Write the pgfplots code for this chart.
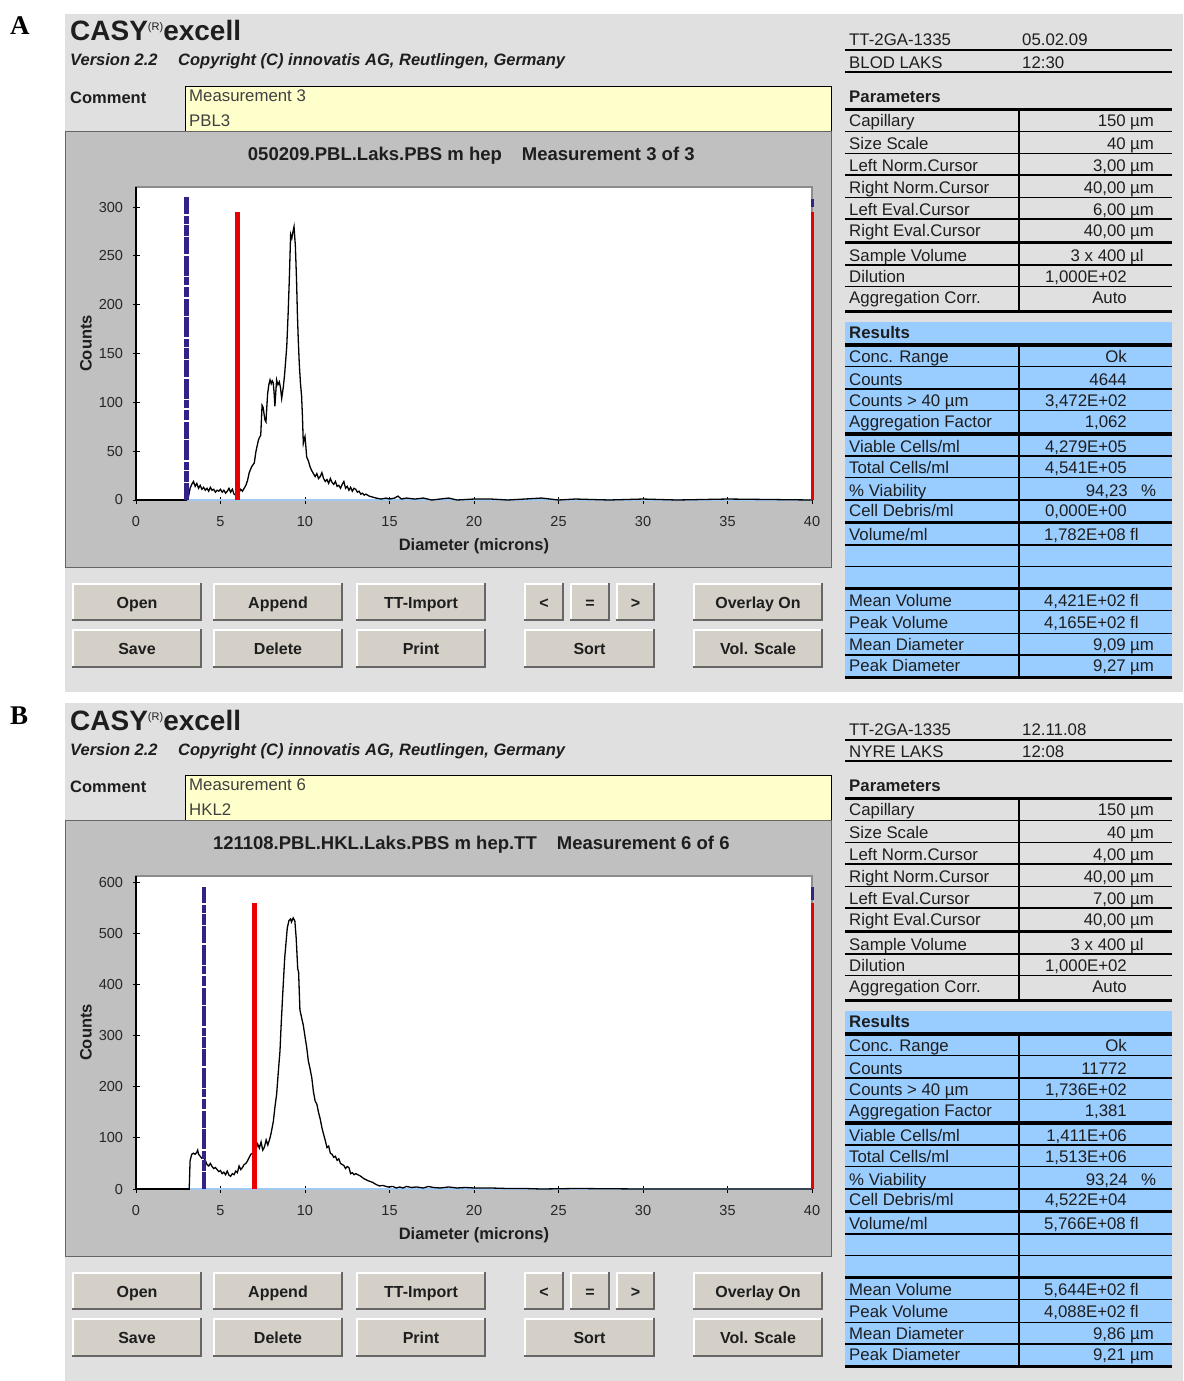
\documentclass[border=0pt]{standalone}
\usepackage{pgfplots}
\pgfplotsset{compat=1.18}
\usepackage{fontspec}
\setmainfont{Liberation Sans}
\newfontfamily\lserif{Liberation Serif}

\definecolor{winbg}{RGB}{224,224,224}
\definecolor{chartbg}{RGB}{192,192,192}
\definecolor{cmtyel}{RGB}{255,255,204}
\definecolor{resblue}{RGB}{153,204,255}
\definecolor{btnface}{RGB}{212,208,200}
\definecolor{cursblue}{RGB}{51,34,136}
\definecolor{cursred}{RGB}{235,0,0}
\definecolor{zeroblue}{RGB}{160,200,240}
\definecolor{txt}{RGB}{30,30,30}

\newcommand\fs[1]{\fontsize{#1}{#1}\selectfont}

\tikzset{
  lbl/.style={inner sep=0pt, anchor=base west, font=\fs{16.8}, text=txt},
  num/.style={inner sep=0pt, anchor=base east, font=\fs{16.8}, text=txt},
}

% pixel coordinates, y downwards
\newcommand\lab[2]{\node[lbl] at (849,#1+6) {#2};}
\newcommand\val[3]{\node[num] at (1126,#1+6) {#2};\node[lbl] at (1130,#1+6) {#3};}
\newcommand\valc[2]{\node[num] at (1127,#1+6) {#2};}
\newcommand\hl[2]{\draw[line width=#2] (845,#1) -- (1172,#1);}
\newcommand\btn[5]{%
  \fill[btnface] (#1,#2) rectangle (#3,#4);
  \draw[white, line width=1.5] (#1+0.75,#4-1) -- (#1+0.75,#2+0.75) -- (#3-1,#2+0.75);
  \draw[black!60, line width=2] (#1,#4-1) -- (#3-1,#4-1) -- (#3-1,#2);
  \node[inner sep=0pt, anchor=base, font=\bfseries\fs{16}, text=txt] at ({(#1+#3)/2},{(#2+#4)/2+6}) {#5};}

\newcommand\casyframe[7]{%
  \fill[winbg] (65,14) rectangle (1183,692);
  \node[lbl, font=\bfseries\fs{28}] at (70,41) {CASY\raisebox{10pt}{\mdseries\fs{11}(R)}excell};
  \node[lbl, font=\bfseries\itshape\fs{16.5}] at (70,66) {Version 2.2};
  \node[lbl, font=\bfseries\itshape\fs{16.5}] at (178,66) {Copyright (C) innovatis AG, Reutlingen, Germany};
  \node[lbl, font=\bfseries\fs{16.5}] at (70,103) {Comment};
  \filldraw[fill=cmtyel, draw=black, line width=1] (185,86) rectangle (831,131);
  \node[lbl, text=black!75] at (189,101) {#1};
  \node[lbl, text=black!75] at (189,126) {#2};
  \filldraw[fill=chartbg, draw=black!60, line width=1] (65,131) rectangle (831,567);
  \filldraw[fill=white, draw=black!45, line width=1.5] (136,187) rectangle (812,500);
  % buttons
  \btn{72}{583}{202}{621}{Open}
  \btn{213}{583}{343}{621}{Append}
  \btn{356}{583}{486}{621}{TT-Import}
  \btn{524}{583}{564}{621}{<}
  \btn{570}{583}{610}{621}{=}
  \btn{616}{583}{655}{621}{>}
  \btn{693}{583}{823}{621}{Overlay On}
  \btn{72}{629}{202}{668}{Save}
  \btn{213}{629}{343}{668}{Delete}
  \btn{356}{629}{486}{668}{Print}
  \btn{524}{629}{655}{668}{Sort}
  \btn{693}{629}{823}{668}{Vol. Scale}
  % header
  \lab{40}{TT-2GA-1335}\node[lbl] at (1022,46) {#3};
  \hl{50.5}{2}
  \lab{62.7}{#4}\node[lbl] at (1022,68.7) {#5};
  \hl{71.7}{2}
  % parameters
  \node[lbl, font=\bfseries\fs{16.8}] at (849,102.7) {Parameters};
  \hl{109.7}{3}
  \lab{120.7}{Capillary}\val{120.7}{150}{µm}
  \hl{131.7}{1.5}
  \lab{143.3}{Size Scale}\val{143.3}{40}{µm}
  \hl{153.3}{1.5}
  \lab{165}{Left Norm.Cursor}\val{165}{#6}{µm}
  \hl{175}{1.5}
  \lab{187.3}{Right Norm.Cursor}\val{187.3}{40,00}{µm}
  \hl{197.3}{1.5}
  \lab{209.3}{Left Eval.Cursor}\val{209.3}{#7}{µm}
  \hl{219}{1.5}
  \lab{230}{Right Eval.Cursor}\val{230}{40,00}{µm}
  \hl{242.3}{3}
  \lab{255}{Sample Volume}\val{255}{3 x 400}{µl}
  \hl{265}{1.5}
  \lab{276}{Dilution}\valc{276}{1,000E+02}
  \hl{286.7}{1.5}
  \lab{297.3}{Aggregation Corr.}\valc{297.3}{Auto}
  \hl{311.5}{3.5}
  \draw[line width=1.5] (1019,111) -- (1019,310);
  % results
  \fill[resblue] (845,322) rectangle (1172,679);
  \node[lbl, font=\bfseries\fs{16.8}] at (849,338.7) {Results};
  \hl{345}{3.5}
  \lab{356}{Conc. Range}\valc{356}{Ok}
  \hl{366.7}{1.5}
  \lab{379.3}{Counts}
  \hl{389}{1.5}
  \lab{400.7}{Counts > 40 µm}
  \hl{410.7}{1.5}
  \lab{421}{Aggregation Factor}
  \hl{433.8}{3.5}
  \lab{446}{Viable Cells/ml}
  \hl{456}{1.5}
  \lab{467.3}{Total Cells/ml}
  \hl{477.7}{1.5}
  \lab{490}{\% Viability}
  \hl{500}{1.5}
  \lab{510}{Cell Debris/ml}
  \hl{522.3}{3.5}
  \lab{534.3}{Volume/ml}
  \hl{545}{1.5}
  \hl{566.7}{1.5}
  \hl{588.3}{3.5}
  \lab{600}{Mean Volume}
  \hl{610.7}{1.5}
  \lab{622.7}{Peak Volume}
  \hl{633.3}{1.5}
  \lab{644}{Mean Diameter}
  \hl{655}{1.5}
  \lab{665}{Peak Diameter}
  \hl{677.7}{3.5}
  \draw[line width=1.5] (1019,346) -- (1019,676);
}

% results values: counts, >40, aggregation, viable, total, viability, debris, volume/ml, mean volume
\newcommand\casyresults[9]{%
  \valc{379.3}{#1}
  \valc{400.7}{#2}
  \valc{421}{#3}
  \valc{446}{#4}
  \valc{467.3}{#5}
  \node[num] at (1128,496) {#6};\node[lbl] at (1141,496) {\%};
  \valc{510}{#7}
  \val{534.3}{#8}{fl}
  \val{600}{#9}{fl}
}

\pgfplotsset{
  casy/.style={
    anchor=south west, scale only axis, width=676pt, height=313pt,
    xmin=0, xmax=40, ymin=0,
    axis lines=left, axis line style={-, line width=1.2pt},
    xtick={0,5,...,40}, tick align=center, major tick length=7pt,
    every tick/.style={black, line width=1pt},
    ticklabel style={font=\fs{14.5}, text=black!85},
    /pgf/number format/assume math mode=true,
    xticklabel style={yshift=-9pt}, yticklabel style={xshift=-6pt},
    clip=false,
    xlabel={Diameter (microns)}, ylabel={Counts},
    xlabel style={at={(axis description cs:0.5,-0.147)}, anchor=center, font=\bfseries\fs{16.5}, text=txt},
    ylabel style={at={(axis description cs:-0.074,0.5)}, anchor=center, font=\bfseries\fs{16.5}, text=txt},
    title style={at={(axis description cs:0.496,1.082)}, anchor=center, yshift=0pt, font=\bfseries\fs{18.5}, text=txt},
  },
  cblue/.style={cursblue, dash pattern=on 17pt off 1.5pt on 10.5pt off 1.5pt on 8pt off 1.5pt on 20pt off 1.5pt},
}

\begin{document}
\begin{tikzpicture}
\begin{scope}[x=1pt,y=-1pt]
  \path[use as bounding box, fill=white] (0,0) rectangle (1183,1381);
  \casyframe{Measurement 3}{PBL3}{05.02.09}{BLOD LAKS}{12:30}{3,00}{6,00}
  \casyresults{4644}{3,472E+02}{1,062}{4,279E+05}{4,541E+05}{94,23}{0,000E+00}{1,782E+08}{4,421E+02}
  \val{622.7}{4,165E+02}{fl}
  \val{644}{9,09}{µm}
  \val{665}{9,27}{µm}
  \node[inner sep=0pt, anchor=base west, font=\lserif\bfseries\fs{27}] at (10,35) {A};
  \begin{scope}[yshift=-689pt]
    \casyframe{Measurement 6}{HKL2}{12.11.08}{NYRE LAKS}{12:08}{4,00}{7,00}
    \casyresults{11772}{1,736E+02}{1,381}{1,411E+06}{1,513E+06}{93,24}{4,522E+04}{5,766E+08}{5,644E+02}
    \val{622.7}{4,088E+02}{fl}
    \val{644}{9,86}{µm}
    \val{665}{9,21}{µm}
    \node[inner sep=0pt, anchor=base west, font=\lserif\bfseries\fs{27}] at (10,35) {B};
  \end{scope}
\end{scope}

\begin{axis}[casy, at={(136pt,-500pt)}, ymax=320.5, ytick={0,50,...,300},
  title={050209.PBL.Laks.PBS m hep\hspace{20pt}Measurement 3 of 3}]
\addplot[zeroblue, line width=2pt] coordinates {(3,0) (40,0)};
\addplot[black, line width=1.3pt] coordinates {
(0,0) (3.0,0) (3.1,3) (3.2,12) (3.3,16) (3.4,19) (3.5,14) (3.6,17) (3.7,12) (3.8,15) (3.9,11) (4.0,13) (4.1,10) (4.2,12) (4.3,9) (4.4,13) (4.5,10) (4.6,11) (4.7,8) (4.8,10) (4.9,9) (5.0,11) (5.1,8) (5.2,10) (5.3,7) (5.4,9) (5.5,12) (5.6,8) (5.7,11) (5.8,6) (5.9,5) (6.0,5) (6.1,8) (6.2,11) (6.3,9) (6.4,12) (6.5,15) (6.6,20) (6.7,28) (6.84,34) (7.0,38) (7.1,50) (7.24,61) (7.3,64) (7.38,66) (7.46,97) (7.52,95) (7.57,89) (7.63,82) (7.69,80) (7.74,95) (7.79,109) (7.86,118) (7.93,123) (8.0,119) (8.06,122) (8.12,120) (8.17,110) (8.22,96) (8.27,110) (8.32,123) (8.4,118) (8.48,121) (8.55,115) (8.62,104) (8.72,116) (8.8,130) (8.92,157) (9.0,190) (9.07,225) (9.15,272) (9.22,268) (9.27,273) (9.35,280) (9.43,260) (9.5,225) (9.55,191) (9.6,165) (9.66,140) (9.73,120) (9.8,106) (9.85,85) (9.9,58) (9.95,62) (10.0,65) (10.05,55) (10.1,44) (10.2,40) (10.3,34) (10.4,30) (10.5,27) (10.6,24) (10.7,27) (10.8,22) (10.9,24) (11.0,28) (11.1,22) (11.2,19) (11.3,21) (11.4,17) (11.5,22) (11.6,18) (11.7,16) (11.8,19) (11.9,14) (12.0,15) (12.1,12) (12.2,16) (12.3,19) (12.4,12) (12.5,14) (12.6,10) (12.7,13) (12.8,9) (12.9,12) (13.0,11) (13.1,8) (13.2,9) (13.3,6) (13.4,7) (13.5,5) (13.6,6) (13.8,4) (14.0,3) (14.2,2) (14.5,1) (14.8,2) (15.0,1) (15.3,2) (15.5,4) (15.7,1) (16.0,2) (16.5,1) (17.0,2) (17.5,0) (18.0,1) (18.5,2) (19.0,0) (20,1) (21,1) (22,0) (23,1) (24,2) (25,0) (26,1) (28,0) (30,1) (32,0) (35,1) (40,0)};
\addplot[cblue, line width=5pt] coordinates {(3,0) (3,310)};
\addplot[cursred, line width=4.3pt] coordinates {(6,0) (6,295)};
\addplot[cursred, line width=3pt] coordinates {(40,0) (40,295)};
\addplot[cursblue, line width=3pt] coordinates {(40,300) (40,308)};
\end{axis}

\begin{axis}[casy, at={(136pt,-1189pt)}, ymax=612, ytick={0,100,...,600},
  title={121108.PBL.HKL.Laks.PBS m hep.TT\hspace{20pt}Measurement 6 of 6}]
\addplot[zeroblue, line width=2pt] coordinates {(3.2,0) (40,0)};
\addplot[black, line width=1.3pt] coordinates {
(0,0) (3.15,0) (3.2,55) (3.25,62) (3.3,68) (3.4,70) (3.5,68) (3.6,72) (3.65,76) (3.7,68) (3.8,64) (3.9,60) (4.0,62) (4.1,56) (4.2,48) (4.3,45) (4.4,50) (4.5,44) (4.6,40) (4.7,42) (4.8,38) (4.9,34) (5.0,36) (5.1,30) (5.2,33) (5.3,28) (5.4,35) (5.5,27) (5.6,25) (5.7,30) (5.8,28) (5.9,35) (6.0,32) (6.1,45) (6.2,38) (6.3,42) (6.4,48) (6.5,50) (6.6,55) (6.7,62) (6.8,68) (6.9,70) (7.0,72) (7.1,78) (7.2,88) (7.3,80) (7.4,92) (7.5,76) (7.6,82) (7.7,96) (7.8,86) (7.93,100) (8.0,110) (8.13,133) (8.22,160) (8.32,185) (8.44,237) (8.52,270) (8.58,315) (8.68,380) (8.8,452) (8.95,510) (9.05,525) (9.15,528) (9.2,522) (9.3,530) (9.4,524) (9.48,490) (9.57,430) (9.62,425) (9.7,350) (9.8,335) (9.9,320) (10.0,298) (10.1,277) (10.2,250) (10.3,235) (10.4,218) (10.5,190) (10.6,172) (10.7,166) (10.8,150) (10.9,137) (11.0,120) (11.1,107) (11.2,95) (11.3,81) (11.4,84) (11.5,70) (11.6,68) (11.7,62) (11.8,64) (11.9,56) (12.0,59) (12.1,50) (12.2,48) (12.3,46) (12.4,40) (12.5,44) (12.6,42) (12.7,30) (12.8,32) (12.9,28) (13.0,30) (13.25,26) (13.5,20) (13.75,16) (14.0,13) (14.2,9) (14.4,6) (14.6,7) (14.9,4) (15.2,5) (15.4,2) (15.6,4) (15.8,2) (16.0,5) (16.3,3) (16.6,4) (17.0,2) (17.3,5) (17.6,3) (18.0,2) (18.5,4) (19.0,2) (19.5,3) (20,2) (21,2) (22,1) (23,1) (24,0) (26,1) (30,0) (40,0)};
\addplot[cblue, line width=4pt] coordinates {(4,0) (4,590)};
\addplot[cursred, line width=5pt] coordinates {(7,0) (7,560)};
\addplot[cursred, line width=3pt] coordinates {(40,0) (40,560)};
\addplot[cursblue, line width=3pt] coordinates {(40,565) (40,590)};
\end{axis}
\end{tikzpicture}
\end{document}
